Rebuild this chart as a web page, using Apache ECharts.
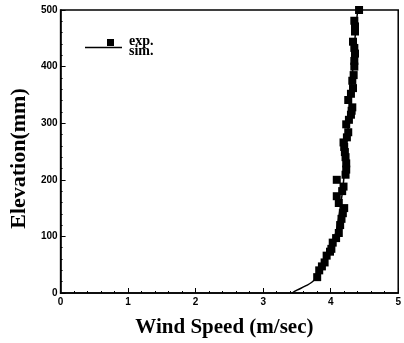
<!DOCTYPE html>
<html>
<head>
<meta charset="utf-8">
<script src="https://cdn.jsdelivr.net/npm/echarts@6/dist/echarts.min.js"></script>
<style>
  html, body { margin: 0; padding: 0; background: #fff; }
  #chart { width: 404px; height: 343px; }
</style>
</head>
<body>
<div id="chart"></div>
<script>
// Measured wind speed (m/sec) at each elevation (mm)
const expSpeed = [
  4.42, 4.35, 4.36, 4.36, 4.33, 4.35, 4.36, 4.35, 4.35, 4.34,
  4.32, 4.33, 4.30, 4.26, 4.32, 4.31, 4.30, 4.27, 4.23, 4.26,
  4.24, 4.19, 4.20, 4.21, 4.22, 4.23, 4.23, 4.22, 4.09, 4.19,
  4.17, 4.09, 4.12, 4.20, 4.18, 4.16, 4.14, 4.12, 4.08, 4.03,
  4.01, 3.99, 3.94, 3.91, 3.87, 3.83, 3.80
];
const expElev = [
  500, 481, 471, 462, 444, 433, 423, 410, 400, 385,
  375, 362, 352, 341, 328, 322, 315, 306, 298, 284,
  275, 266, 258, 249, 240, 229, 218, 209, 200, 188,
  180, 171, 159, 150, 141, 131, 120, 106, 97, 89,
  78, 73, 66, 54, 47, 40, 28
];

// Simulated profile
const simSpeed = [3.43, 3.50, 3.62, 3.72, 3.80, 3.87, 3.93, 3.99, 4.05, 4.10, 4.14, 4.18, 4.21, 4.25, 4.29, 4.33, 4.36, 4.40];
const simElev  = [0,    5,    12,   19,   28,   40,   55,   72,   95,   120,  150,  185,  225,  280,  340,  400,  450,  500];

const xTicks = [0, 1, 2, 3, 4, 5];
const yTicks = [0, 100, 200, 300, 400, 500];
const legendNames = ['exp.', 'sim.'];

const pair = (xs, ys) => xs.map((x, i) => [x, ys[i]]);

const serif = '"Liberation Serif", "Times New Roman", serif';
const sans = '"Liberation Sans", Arial, sans-serif';
const legendFont = { fontFamily: serif, fontWeight: 'bold', fontSize: 14, fill: '#000', verticalAlign: 'middle' };

const chart = echarts.init(document.getElementById('chart'), null, { renderer: 'canvas' });

chart.setOption({
  animation: false,
  backgroundColor: '#fff',
  grid: {
    left: 58, right: 2, top: 10, bottom: 45,
    show: true, borderColor: '#000', borderWidth: 1.5, backgroundColor: 'transparent'
  },
  // Key in the upper-left corner: square marker for measurements, line for simulation
  graphic: [
    { type: 'rect', left: 107, top: 39, shape: { width: 7, height: 7 }, style: { fill: '#000' } },
    { type: 'line', shape: { x1: 85, y1: 47.5, x2: 122, y2: 47.5 }, style: { stroke: '#000', lineWidth: 1.5 } },
    { type: 'text', x: 129, y: 41, style: Object.assign({ text: legendNames[0] }, legendFont) },
    { type: 'text', x: 129, y: 51, style: Object.assign({ text: legendNames[1] }, legendFont) }
  ],
  xAxis: {
    type: 'value', min: xTicks[0], max: xTicks[xTicks.length - 1], interval: 1,
    name: 'Wind Speed (m/sec)', nameLocation: 'middle', nameGap: 24,
    nameTextStyle: { fontFamily: serif, fontWeight: 'bold', fontSize: 21, color: '#000', padding: [0, 10, 0, 0] },
    axisLine: { lineStyle: { color: '#000', width: 1.5 } },
    axisTick: { inside: true, length: 5, lineStyle: { color: '#000' } },
    minorTick: { show: true, splitNumber: 5, length: 2, lineStyle: { color: '#000' } },
    axisLabel: { fontFamily: sans, fontWeight: 'bold', fontSize: 10, color: '#000', margin: 4 },
    splitLine: { show: false }
  },
  yAxis: {
    type: 'value', min: yTicks[0], max: yTicks[yTicks.length - 1], interval: 100,
    name: 'Elevation(mm)', nameLocation: 'middle', nameGap: 30,
    nameTextStyle: { fontFamily: serif, fontWeight: 'bold', fontSize: 22, color: '#000', padding: [0, 14, 0, 0] },
    axisLine: { lineStyle: { color: '#000', width: 1.5 } },
    axisTick: { inside: true, length: 5, lineStyle: { color: '#000' } },
    minorTick: { show: true, splitNumber: 5, length: 2, lineStyle: { color: '#000' } },
    axisLabel: { fontFamily: sans, fontWeight: 'bold', fontSize: 10, color: '#000', margin: 3 },
    splitLine: { show: false }
  },
  series: [
    {
      name: legendNames[1], type: 'line', data: pair(simSpeed, simElev),
      symbol: 'none', smooth: true,
      lineStyle: { color: '#000', width: 1.5 }, itemStyle: { color: '#000' },
      z: 2
    },
    {
      name: legendNames[0], type: 'scatter', data: pair(expSpeed, expElev),
      symbol: 'rect', symbolSize: 8,
      itemStyle: { color: '#000', opacity: 1 },
      z: 3
    }
  ]
});
</script>
</body>
</html>
